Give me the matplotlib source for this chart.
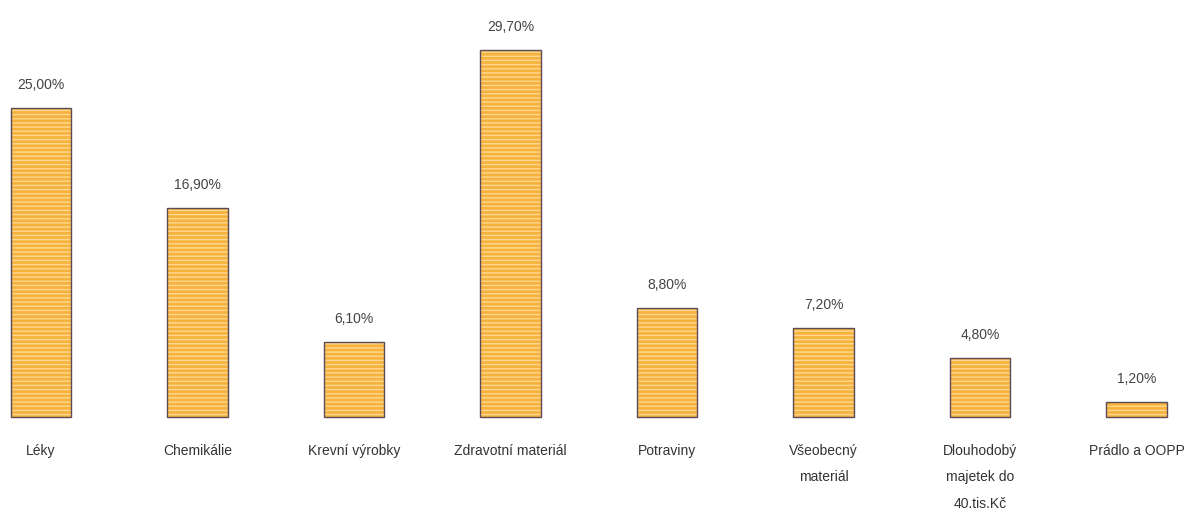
import numpy as np
import matplotlib.pyplot as plt

plt.rcParams['font.family'] = ['Liberation Sans', 'DejaVu Sans']
plt.rcParams['hatch.linewidth'] = 1.0

categories = ['Léky', 'Chemikálie', 'Krevní výrobky', 'Zdravotní materiál',
              'Potraviny', 'Všeobecný\nmateriál', 'Dlouhodobý\nmajetek do\n40.tis.Kč',
              'Prádlo a OOPP']
values = [25.0, 16.9, 6.1, 29.7, 8.8, 7.2, 4.8, 1.2]
value_labels = ['25,00%', '16,90%', '6,10%', '29,70%', '8,80%', '7,20%', '4,80%', '1,20%']

x = np.arange(len(categories))

fig = plt.figure(figsize=(12.02, 5.15), dpi=100)
ax = fig.add_axes([0, 0, 1, 1])

# fill with light horizontal stripes, then a dark outline on top
ax.bar(x, values, width=0.385, color='#F7B23E', hatch='----',
       edgecolor='#FFD98F', linewidth=0)
ax.bar(x, values, width=0.385, color='none', edgecolor='#5B4B57', linewidth=1.0)

for i, v in enumerate(values):
    ax.text(x[i], v + 1.3, value_labels[i], ha='center', va='bottom',
            fontsize=10, color='#444444')
    ax.text(x[i], -2.15, categories[i], ha='center', va='top',
            fontsize=10, color='#333333', linespacing=2.15)

ax.set_xlim(-0.262, 7.418)
ax.set_ylim(-7.93, 33.74)
ax.axis('off')

plt.savefig('out.png', dpi=100, facecolor='white')
plt.close()
